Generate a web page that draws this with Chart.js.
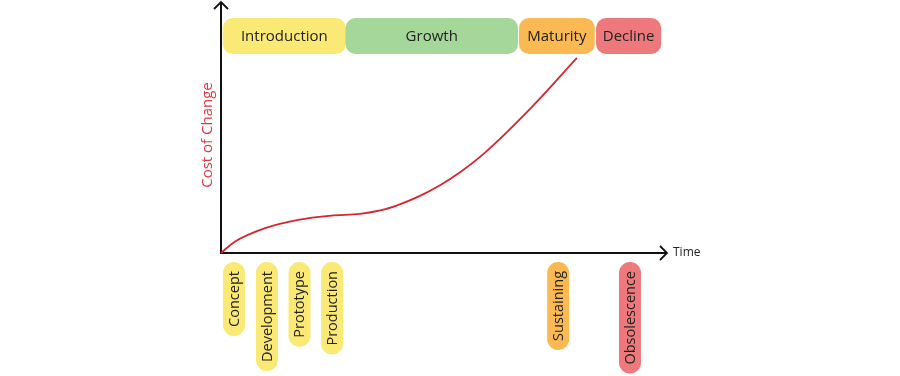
<!DOCTYPE html>
<html>
<head>
<meta charset="utf-8">
<script src="https://cdn.jsdelivr.net/npm/chart.js@4/dist/chart.umd.min.js"></script>
<style>
  body { margin: 0; background: #fff; }
</style>
</head>
<body>
<canvas id="myChart" width="900" height="376"></canvas>
<script>
// curve: time (0-100) vs cost of change (0-100)
const timeValues = [0, 3.1, 9.9, 17.3, 24.8, 31.2, 35.7, 40.1, 44.6, 49.1, 53.6, 59.2, 69.3, 79.8];
const costValues = [0, 4.5, 9.9, 13.2, 14.9, 15.6, 16.95, 19.4, 22.75, 27.0, 32.2, 40.0, 57.4, 77.7];

// lifecycle phases (start / end on the time axis)
const phaseNames = ["Introduction", "Growth", "Maturity", "Decline"];
const phaseStart = [0.4, 27.9, 66.8, 84.1];
const phaseEnd = [28.0, 66.6, 83.8, 98.7];
const phaseColors = ["#fbe976", "#a5d79b", "#fab952", "#ee797c"];

// milestones below the time axis
const milestoneNames = ["Concept", "Development", "Prototype", "Production", "Sustaining", "Obsolescence"];
const milestoneTimes = [2.9, 10.3, 17.6, 24.9, 75.6, 91.7];
const milestoneColors = ["#fbe976", "#fbe976", "#fbe976", "#fbe976", "#fab952", "#ee797c"];

const FONT = "'Open Sans', sans-serif";

function roundRect(c, x, y, w, h, r) {
    c.beginPath();
    c.moveTo(x + r, y);
    c.lineTo(x + w - r, y);
    c.arcTo(x + w, y, x + w, y + r, r);
    c.lineTo(x + w, y + h - r);
    c.arcTo(x + w, y + h, x + w - r, y + h, r);
    c.lineTo(x + r, y + h);
    c.arcTo(x, y + h, x, y + h - r, r);
    c.lineTo(x, y + r);
    c.arcTo(x, y, x + r, y, r);
    c.closePath();
}

const axesPlugin = {
    id: 'axesPlugin',
    beforeDatasetsDraw(chart) {
        const c = chart.ctx;
        const a = chart.chartArea;
        c.save();
        c.strokeStyle = "#111";
        c.lineWidth = 2;
        // axis lines
        c.beginPath();
        c.moveTo(a.left, a.top);
        c.lineTo(a.left, a.bottom);
        c.lineTo(a.right, a.bottom);
        c.stroke();
        c.lineWidth = 1.8;
        // arrow heads
        c.beginPath();
        c.moveTo(a.left - 7, a.top + 7);
        c.lineTo(a.left, a.top);
        c.lineTo(a.left + 7, a.top + 7);
        c.moveTo(a.right - 7, a.bottom - 7);
        c.lineTo(a.right, a.bottom);
        c.lineTo(a.right - 7, a.bottom + 7);
        c.stroke();
        // axis titles
        c.fillStyle = "#222";
        c.font = "12px " + FONT;
        c.textAlign = "left";
        c.textBaseline = "middle";
        c.fillText("Time", a.right + 6, a.bottom);
        c.save();
        c.translate(a.left - 13, 135);
        c.rotate(-Math.PI / 2);
        c.fillStyle = "#dc3b44";
        c.font = "15px " + FONT;
        c.textAlign = "center";
        c.fillText("Cost of Change", 0, 0);
        c.restore();
        c.restore();
    },
    afterDraw(chart) {
        const c = chart.ctx;
        const a = chart.chartArea;
        const xs = chart.scales.x;
        c.save();
        // phase boxes
        c.font = "15px " + FONT;
        c.textAlign = "center";
        c.textBaseline = "middle";
        phaseNames.forEach((name, i) => {
            const x0 = xs.getPixelForValue(phaseStart[i]);
            const x1 = xs.getPixelForValue(phaseEnd[i]);
            c.fillStyle = phaseColors[i];
            roundRect(c, x0, 18, x1 - x0, 36, 10);
            c.fill();
            c.fillStyle = "#222";
            c.fillText(name, (x0 + x1) / 2, 36.5);
        });
        // milestone pills
        c.font = "14.5px " + FONT;
        const pad = 9;
        milestoneNames.forEach((name, i) => {
            const cx = xs.getPixelForValue(milestoneTimes[i]);
            const top = a.bottom + 9;
            const len = c.measureText(name).width + 2 * pad;
            c.save();
            c.translate(cx, top);
            c.rotate(-Math.PI / 2);
            c.fillStyle = milestoneColors[i];
            roundRect(c, -len, -11, len, 22, 11);
            c.fill();
            c.fillStyle = "#222";
            c.textAlign = "right";
            c.fillText(name, -pad, 0.5);
            c.restore();
        });
        c.restore();
    }
};

const ctx = document.getElementById('myChart').getContext("2d");
const myChart = new Chart(ctx, {
    type: "line",
    data: {
        datasets: [{
            data: timeValues.map((t, i) => ({x: t, y: costValues[i]})),
            borderColor: "#d4262f",
            borderWidth: 1.8,
            pointRadius: 0,
            cubicInterpolationMode: "monotone",
            clip: false,
            fill: false
        }]
    },
    options: {
        responsive: false,
        devicePixelRatio: 1,
        animation: false,
        layout: {
            padding: {left: 221, right: 233, top: 2, bottom: 123}
        },
        plugins: {
            legend: {display: false},
            tooltip: {enabled: false}
        },
        scales: {
            x: {type: "linear", min: 0, max: 100, display: false},
            y: {min: 0, max: 100, display: false}
        }
    },
    plugins: [axesPlugin]
});
</script>
</body>
</html>
